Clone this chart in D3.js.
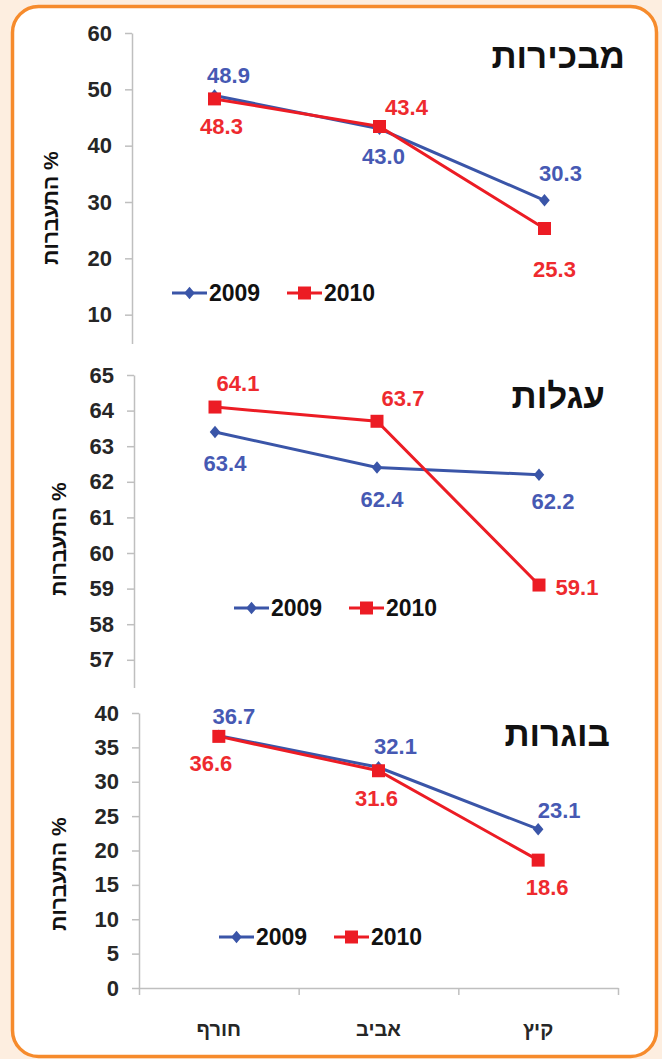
<!DOCTYPE html>
<html>
<head>
<meta charset="utf-8">
<script src="https://cdn.jsdelivr.net/npm/d3@7"></script>
<style>
  html, body { margin: 0; padding: 0; background: #fdeee0; }
  svg { display: block; }
  text { font-family: 'Liberation Sans', Arial, 'DejaVu Sans', sans-serif; font-weight: bold; }
</style>
</head>
<body>
<script>
// data
var categories = ['חורף', 'אביב', 'קיץ']
var seriesNames = ['2009', '2010']
var panelTitles = ['מבכירות', 'עגלות', 'בוגרות']

var firstborn2009 = [48.9, 43.0, 30.3]
var firstborn2010 = [48.3, 43.4, 25.3]
var heifers2009 = [63.4, 62.4, 62.2]
var heifers2010 = [64.1, 63.7, 59.1]
var cows2009 = [36.7, 32.1, 23.1]
var cows2010 = [36.6, 31.6, 18.6]

var ticks1 = [10, 20, 30, 40, 50, 60]
var ticks2 = [56, 57, 58, 59, 60, 61, 62, 63, 64, 65]
var ticks3 = [0, 5, 10, 15, 20, 25, 30, 35, 40]

var yTitle = 'התעברות   %'

var W = 662, H = 1059
var blue = '#3a55a8', red = '#ec1c24'
var blueText = '#4659b3', redText = '#ee2a2e'

var svg = d3.select('body').append('svg')
  .attr('width', W)
  .attr('height', H)

svg.append('rect')
  .attr('x', 12.5).attr('y', 6.5)
  .attr('width', 644).attr('height', 1050)
  .attr('rx', 26)
  .attr('fill', '#fff')
  .attr('stroke', '#f68b2c')
  .attr('stroke-width', 3.5)

var diamond = {
  draw: function (ctx, size) {
    var h = Math.sqrt(size) * 0.62, w = h * 0.85
    ctx.moveTo(0, -h); ctx.lineTo(w, 0); ctx.lineTo(0, h); ctx.lineTo(-w, 0); ctx.closePath()
  }
}

// layout of each panel
var panels = [
  {
    title: panelTitles[0], data: [firstborn2009, firstborn2010], ticks: ticks1,
    domain: [0, 60], yRange: [371, 33], clip: [20, 344],
    xRange: [132, 627], axisX: 132,
    titleX: 625, titleY: 68,
    yTitleX: 51, yTitleY: 208,
    legend: {x: 172, y: 293},
    offsets: [[[14, -20], [4, 28], [16, -27]], [[7, 27], [27, -19], [10, 41]]]
  },
  {
    title: panelTitles[1], data: [heifers2009, heifers2010], ticks: ticks2,
    domain: [55, 65], yRange: [731, 375], clip: [360, 688],
    xRange: [134, 620], axisX: 134,
    titleX: 605, titleY: 408,
    yTitleX: 59, yTitleY: 539,
    legend: {x: 234, y: 608},
    offsets: [[[10, 31], [5, 32], [14, 27]], [[23, -24], [26, -23], [38, 2]]]
  },
  {
    title: panelTitles[2], data: [cows2009, cows2010], ticks: ticks3,
    domain: [0, 40], yRange: [988, 713], clip: [700, 1000],
    xRange: [139, 618], axisX: 139,
    titleX: 610, titleY: 746,
    yTitleX: 59, yTitleY: 874,
    legend: {x: 219, y: 937},
    offsets: [[[15, -19], [17, -21], [21, -19]], [[-8, 27], [-2, 28], [9, 27]]],
    xAxis: true
  }
]

panels.forEach(function (p, pi) {
  var g = svg.append('g')
  var y = d3.scaleLinear().domain(p.domain).range(p.yRange)
  var x = d3.scalePoint().domain(categories).range(p.xRange).padding(0.5)

  // the clip rect lives in the axis group's own (translated) coordinates
  svg.append('clipPath').attr('id', 'clip' + pi)
    .append('rect').attr('x', -p.axisX).attr('y', p.clip[0]).attr('width', W).attr('height', p.clip[1] - p.clip[0])

  var ya = g.append('g')
    .attr('clip-path', 'url(#clip' + pi + ')')
    .attr('transform', `translate(${p.axisX},0)`)
    .call(d3.axisLeft(y).tickValues(p.ticks).tickSize(7).tickSizeOuter(0).tickPadding(13))
  ya.attr('font-family', null).attr('font-size', 22)
  ya.select('.domain').attr('stroke', '#bfbfbf').attr('stroke-width', 1.5)
  ya.selectAll('.tick line').attr('stroke', '#bfbfbf').attr('stroke-width', 1.5)
  ya.selectAll('.tick text')
    .attr('fill', '#262626')
    .attr('font-size', 22)

  if (p.xAxis) {
    var xe = d3.scaleLinear().domain([0, categories.length]).range(p.xRange)
    var xa = g.append('g')
      .attr('transform', `translate(0,${p.yRange[0]})`)
      .call(d3.axisBottom(xe).tickValues(d3.range(categories.length + 1)).tickFormat('').tickSize(7).tickSizeOuter(0))
    xa.select('.domain').attr('stroke', '#bfbfbf').attr('stroke-width', 1.5)
    xa.selectAll('.tick line').attr('stroke', '#bfbfbf').attr('stroke-width', 1.5)

    g.selectAll('.cat')
      .data(categories)
      .enter().append('text')
      .attr('x', d => x(d))
      .attr('y', 1036)
      .attr('text-anchor', 'middle')
      .attr('fill', '#262626')
      .attr('font-size', 20)
      .text(d => d)
  }

  // title
  g.append('text')
    .attr('x', p.titleX).attr('y', p.titleY)
    .attr('text-anchor', 'end')
    .attr('fill', '#111')
    .attr('font-size', 35)
    .text(p.title)

  // y title
  g.append('text')
    .attr('transform', `translate(${p.yTitleX},${p.yTitleY}) rotate(-90)`)
    .attr('text-anchor', 'middle')
    .attr('dy', '0.35em')
    .attr('fill', '#111')
    .attr('font-size', 21)
    .text(yTitle)

  var line = d3.line().x((d, i) => x(categories[i])).y(d => y(d))
  var colors = [blue, red], textColors = [blueText, redText]

  p.data.forEach(function (vals, si) {
    g.append('path')
      .datum(vals)
      .attr('d', line)
      .attr('fill', 'none')
      .attr('stroke', colors[si])
      .attr('stroke-width', 3)

    g.selectAll('.m' + si)
      .data(vals)
      .enter().append('path')
      .attr('transform', (d, i) => `translate(${x(categories[i])},${y(d)})`)
      .attr('d', d3.symbol(si === 0 ? diamond : d3.symbolSquare, si === 0 ? 100 : 169))
      .attr('fill', colors[si])

    g.selectAll('.l' + si)
      .data(vals)
      .enter().append('text')
      .attr('x', (d, i) => x(categories[i]) + p.offsets[si][i][0])
      .attr('y', (d, i) => y(d) + p.offsets[si][i][1])
      .attr('dy', '0.35em')
      .attr('text-anchor', 'middle')
      .attr('fill', textColors[si])
      .attr('font-size', 22)
      .text(d => d.toFixed(1))
  })

  // legend
  var lg = g.append('g').attr('transform', `translate(${p.legend.x},${p.legend.y})`)
  var items = lg.selectAll('g')
    .data(seriesNames)
    .enter().append('g')
    .attr('transform', (d, i) => `translate(${i * 115},0)`)
  items.append('line')
    .attr('x1', 0).attr('x2', 35)
    .attr('stroke', (d, i) => colors[i])
    .attr('stroke-width', 3)
  items.append('path')
    .attr('transform', 'translate(17.5,0)')
    .attr('d', (d, i) => d3.symbol(i === 0 ? diamond : d3.symbolSquare, i === 0 ? 100 : 169)())
    .attr('fill', (d, i) => colors[i])
  items.append('text')
    .attr('x', 37)
    .attr('dy', '0.35em')
    .attr('fill', '#111')
    .attr('font-size', 23)
    .text(d => d)
})
</script>
</body>
</html>
